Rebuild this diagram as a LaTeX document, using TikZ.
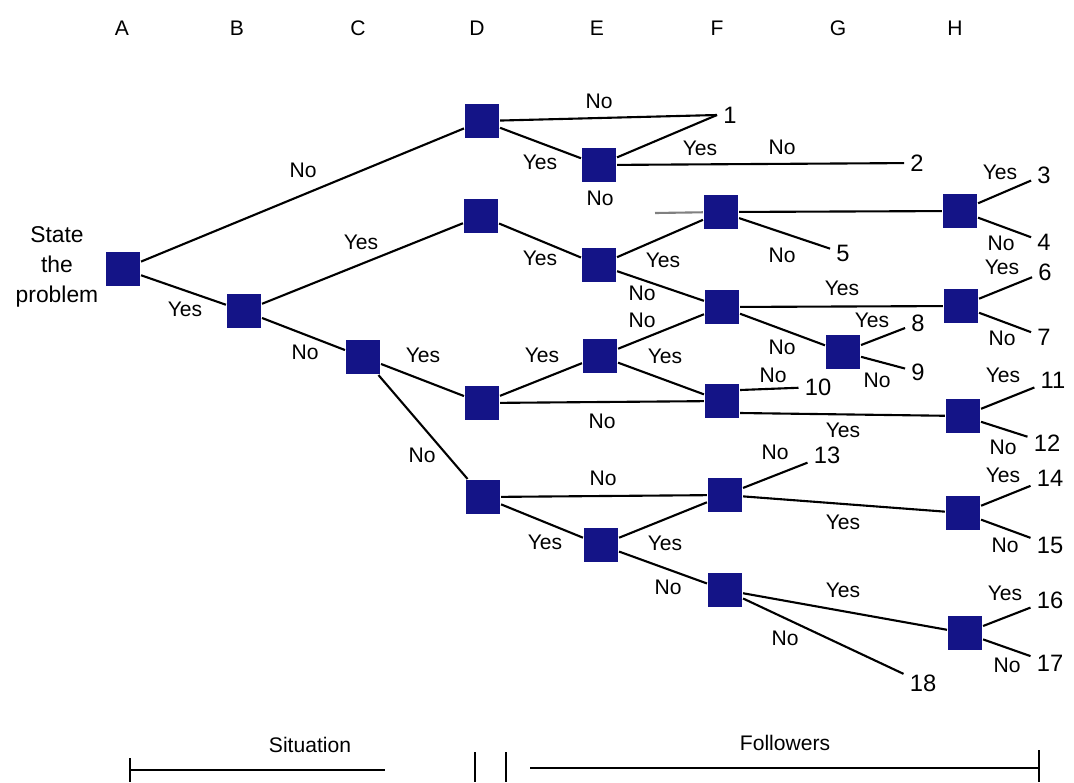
\documentclass[tikz,border=0pt]{standalone}
\usepackage{fontspec}
\setmainfont{Liberation Sans}
\usepackage{tikz}
\usetikzlibrary{calc}

\definecolor{boxblue}{RGB}{20,20,135}

\begin{document}
\begin{tikzpicture}[x=0.02cm, y=-0.02cm, line width=1.2pt,
    box/.style={fill=boxblue, minimum size=0.68cm, inner sep=0pt},
    lab/.style={inner sep=1pt, font=\fontsize{12}{14}\selectfont},
    num/.style={inner sep=3pt, font=\fontsize{13.5}{16}\selectfont},
    col/.style={font=\fontsize{12}{14}\selectfont}]
  \useasboundingbox (0,0) rectangle (1074,782);

  % Column letters
  \foreach \x/\c in {122/A,237/B,358/C,477/D,597/E,717/F,838/G,955/H} {
    \draw (\x,28) node[col] (col\c) {\c};
  }

  % Decision points
  \draw (123,269) node[box] (A)  {};
  \draw (244,311) node[box] (B)  {};
  \draw (363,357) node[box] (C)  {};
  \draw (482,121) node[box] (D1) {};
  \draw (481,216) node[box] (D2) {};
  \draw (482,403) node[box] (D3) {};
  \draw (483,497) node[box] (D4) {};
  \draw (599,165) node[box] (E1) {};
  \draw (599,265) node[box] (E2) {};
  \draw (600,356) node[box] (E3) {};
  \draw (601,545) node[box] (E4) {};
  \draw (721,212) node[box] (F1) {};
  \draw (722,307) node[box] (F2) {};
  \draw (722,401) node[box] (F3) {};
  \draw (725,495) node[box] (F4) {};
  \draw (725,590) node[box] (F5) {};
  \draw (843,352) node[box] (G1) {};
  \draw (960,211) node[box] (H1) {};
  \draw (961,306) node[box] (H2) {};
  \draw (963,416) node[box] (H3) {};
  \draw (963,513) node[box] (H4) {};
  \draw (965,633) node[box] (H5) {};

  \draw (57,267) node[align=center, font=\fontsize{13}{17}\selectfont] (prob) {State\\the\\problem};

  % Outcomes
  \coordinate (j1) at (717,115);
  \coordinate (s1) at (655,213);
  \draw (j1) node[num, anchor=west] (t1) {1};
  \foreach \x/\y/\n in {917/163/2,1044/175/3,1044/242/4,843/253/5,1045/272/6,
                        1044/337/7,918/323/8,918/372/9,818/387/10,1053/380/11,
                        1047/443/12,827/455/13,1050/478/14,1050/545/15,
                        1050/600/16,1050/663/17,923/683/18} {
    \draw (\x,\y) node[num] (t\n) {\n};
  }

  % Branches
  \draw (A) -- (D1);
  \draw (A) -- (B);
  \draw (B) -- (D2);
  \draw (B) -- (C);
  \draw (C) -- (D3);
  \draw (C) -- (D4);
  \draw (D1) -- (j1);
  \draw (D1) -- (E1);
  \draw (E1) -- (j1);
  \draw (E1) -- (t2);
  \draw (D2) -- (E2);
  \draw[gray] (s1) -- (F1);
  \draw (E2) -- (F1);
  \draw (E2) -- (F2);
  \draw (F1) -- (H1);
  \draw (F1) -- (t5);
  \draw (E3) -- (F2);
  \draw (F2) -- (H2);
  \draw (F2) -- (G1);
  \draw (G1) -- (t8);
  \draw (G1) -- (t9);
  \draw (D3) -- (E3);
  \draw (D3) -- (F3);
  \draw (E3) -- (F3);
  \draw ([yshift=0.22cm]F3.east) -- (t10);
  \draw ([yshift=-0.24cm]F3.east) -- (H3);
  \draw (H1) -- (t3);
  \draw (H1) -- (t4);
  \draw (H2) -- (t6);
  \draw (H2) -- (t7);
  \draw (H3) -- (t11);
  \draw (H3) -- (t12);
  \draw (D4) -- (F4);
  \draw (D4) -- (E4);
  \draw (E4) -- (F4);
  \draw (E4) -- (F5);
  \draw (F4) -- (t13);
  \draw (F4) -- (H4);
  \draw (H4) -- (t14);
  \draw (H4) -- (t15);
  \draw (F5) -- (H5);
  \draw (F5) -- (t18);
  \draw (H5) -- (t16);
  \draw (H5) -- (t17);

  % Yes / No
  \foreach \x/\y/\t [count=\i] in {303/170/No,185/309/Yes,361/242/Yes,305/352/No,
      423/355/Yes,422/455/No,599/101/No,540/162/Yes,700/148/Yes,782/147/No,
      600/198/No,540/258/Yes,663/260/Yes,782/255/No,642/293/No,642/320/No,
      665/356/Yes,542/355/Yes,842/288/Yes,872/320/Yes,782/347/No,877/380/No,
      773/375/No,602/421/No,843/430/Yes,1000/172/Yes,1001/243/No,1002/267/Yes,
      1002/338/No,1003/375/Yes,1003/447/No,775/452/No,603/478/No,843/522/Yes,
      1003/475/Yes,1005/545/No,545/542/Yes,665/543/Yes,668/587/No,843/590/Yes,
      785/638/No,1005/593/Yes,1007/665/No} {
    \draw (\x,\y) node[lab] (l\i) {\t};
  }

  % Scale
  \draw (310,745) node[col] (sit) {Situation};
  \draw (785,743) node[col] (fol) {Followers};
  \draw (130,758) -- (130,782);
  \draw (130,770) -- (385,770);
  \draw (475,752) -- (475,782);
  \draw (506,752) -- (506,782);
  \draw (530,768) -- (1039,768);
  \draw (1039,750) -- (1039,782);
\end{tikzpicture}
\end{document}
